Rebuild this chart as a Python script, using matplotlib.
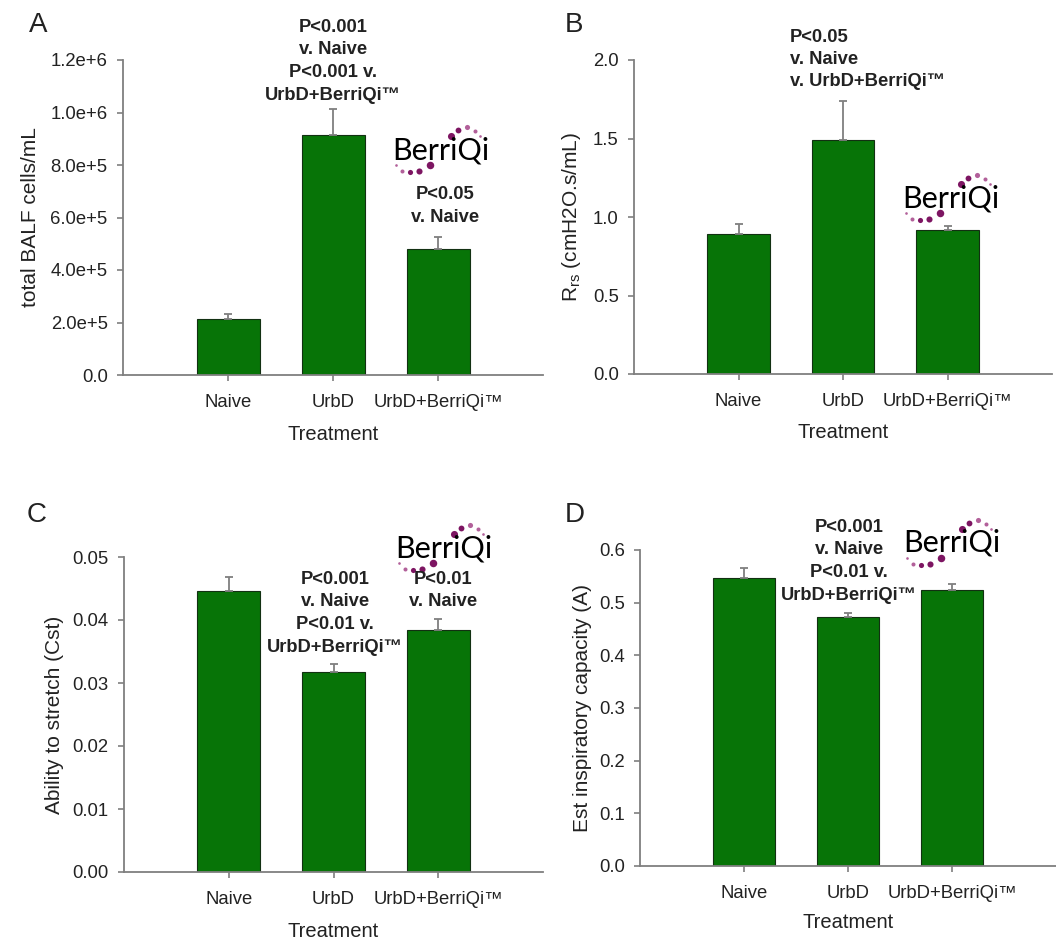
import numpy as np
import matplotlib
matplotlib.use('Agg')
import matplotlib.pyplot as plt
from matplotlib.lines import Line2D

plt.rcParams['font.family'] = ['Liberation Sans', 'DejaVu Sans']
plt.rcParams['mathtext.default'] = 'regular'

W, H = 1056, 943

categories = ['Naive', 'UrbD', 'UrbD+BerriQi\u2122']

# panel A: total BALF cells
balf_mean = [2.13e5, 9.14e5, 4.80e5]
balf_err = [0.19e5, 0.99e5, 0.46e5]
# panel B: Rrs
rrs_mean = [0.89, 1.49, 0.915]
rrs_err = [0.065, 0.25, 0.025]
# panel C: Cst
cst_mean = [0.0446, 0.0317, 0.0384]
cst_err = [0.0022, 0.0013, 0.0018]
# panel D: inspiratory capacity
ic_mean = [0.547, 0.472, 0.524]
ic_err = [0.018, 0.008, 0.011]

balf_ticks = [0, 2e5, 4e5, 6e5, 8e5, 1e6, 1.2e6]
balf_ticklabels = ['0.0', '2.0e+5', '4.0e+5', '6.0e+5', '8.0e+5', '1.0e+6', '1.2e+6']
rrs_ticks = [0.0, 0.5, 1.0, 1.5, 2.0]
cst_ticks = [0.0, 0.01, 0.02, 0.03, 0.04, 0.05]
ic_ticks = [0.0, 0.1, 0.2, 0.3, 0.4, 0.5, 0.6]

GREEN = '#077407'
GRAY = '#7f7f7f'
PURPLE = '#7d1562'
PURPLE_LIGHT = '#b2609a'


def px(x, y):
    return x / W, 1 - y / H


def axes_px(x0, y0, x1, y1):
    l, t = px(x0, y0)
    r, b = px(x1, y1)
    return [l, b, r - l, t - b]


def draw_panel(rect, means, errs, ticks, ticklabels, ylabel, ylab_x, xlab_y):
    ax = fig.add_axes(rect)
    x = np.arange(len(categories))
    ax.bar(x, means, width=0.6, color=GREEN, edgecolor='#123012', linewidth=0.8, zorder=2)
    ax.errorbar(x, means, yerr=[[0] * len(errs), errs], fmt='none', ecolor=GRAY,
                elinewidth=1.3, capsize=3, capthick=1.3, zorder=3)
    ax.set_xlim(-1, 3)
    ax.set_ylim(ticks[0], ticks[-1])
    ax.set_xticks(x)
    ax.set_xticklabels(categories, fontsize=13.3, color='#222222')
    ax.set_yticks(ticks)
    ax.set_yticklabels(ticklabels, fontsize=13.3, color='#222222')
    for s in ['top', 'right']:
        ax.spines[s].set_visible(False)
    for s in ['left', 'bottom']:
        ax.spines[s].set_color(GRAY)
        ax.spines[s].set_linewidth(1.3)
    ax.tick_params(axis='y', direction='out', length=4, width=1.2, color=GRAY, pad=7)
    ax.tick_params(axis='x', direction='out', length=4, width=1.2, color=GRAY, pad=10)
    ax.set_ylabel(ylabel, fontsize=15, color='#222222')
    ax.set_xlabel('Treatment', fontsize=14.5, color='#222222')
    ax.yaxis.set_label_coords(ylab_x, 0.5)
    ax.xaxis.set_label_coords(0.5, xlab_y)
    return ax


def draw_logo(x, y):
    # x, y: pixel position of text left / baseline
    fig.text(*px(x, y), 'BerriQi', fontsize=22, family=['Lato', 'DejaVu Sans'],
             color='black', ha='left', va='baseline')
    dots = [(4, -6, 1.9, PURPLE_LIGHT), (10, -12, 2.9, PURPLE_LIGHT), (18, -13.4, 3.7, PURPLE),
            (27, -12, 4.4, PURPLE), (38, -6, 5.4, PURPLE),
            (59, 23, 5.1, PURPLE), (66, 29, 4.2, PURPLE), (75, 32, 3.7, PURPLE_LIGHT),
            (83, 28, 2.9, PURPLE_LIGHT), (88, 23, 1.9, PURPLE_LIGHT)]
    for dx, dy, ms, c in dots:
        fig.add_artist(Line2D([px(x + dx, 0)[0]], [px(0, y - dy)[1]], marker='o',
                              markersize=ms, color=c, markeredgewidth=0, linestyle='none',
                              transform=fig.transFigure))


def bold_lines(x, y, lines, ha='center', step=22.7):
    # y: pixel centre of the first line
    for i, s in enumerate(lines):
        fig.text(*px(x, y + i * step), s, fontsize=13.2, fontweight='bold',
                 color='#222222', ha=ha, va='center')


fig = plt.figure(figsize=(W / 100, H / 100), dpi=100)

axA = draw_panel(axes_px(123, 60, 543, 375), balf_mean, balf_err, balf_ticks,
                 balf_ticklabels, 'total BALF cells/mL', -0.198, -0.159)
axB = draw_panel(axes_px(634, 60, 1052, 374), rrs_mean, rrs_err, rrs_ticks,
                 ['%.1f' % t for t in rrs_ticks], r'R$_{rs}$ (cmH2O.s/mL)', -0.122, -0.156)
axC = draw_panel(axes_px(124, 557, 543, 872), cst_mean, cst_err, cst_ticks,
                 ['%.2f' % t for t in cst_ticks], 'Ability to stretch (Cst)', -0.143, -0.159)
axD = draw_panel(axes_px(640, 550, 1056, 866), ic_mean, ic_err, ic_ticks,
                 ['%.1f' % t for t in ic_ticks], 'Est inspiratory capacity (A)', -0.115, -0.149)

# panel letters
for letter, (lx, ly) in zip('ABCD', [(29, 32), (565, 32), (27, 522), (565, 522)]):
    fig.text(*px(lx, ly), letter, fontsize=20, color='#222222', ha='left', va='baseline')

# significance annotations
bold_lines(333, 27, ['P<0.001', 'v. Naive', 'P<0.001 v.', 'UrbD+BerriQi\u2122'])
bold_lines(445, 195, ['P<0.05', 'v. Naive'])
bold_lines(790, 37, ['P<0.05', 'v. Naive', 'v. UrbD+BerriQi\u2122'], ha='left', step=22.5)
bold_lines(335, 579, ['P<0.001', 'v. Naive', 'P<0.01 v.', 'UrbD+BerriQi\u2122'])
bold_lines(443, 579, ['P<0.01', 'v. Naive'])
bold_lines(849, 527, ['P<0.001', 'v. Naive', 'P<0.01 v.', 'UrbD+BerriQi\u2122'])

# BerriQi logos
draw_logo(392, 159)
draw_logo(902, 207)
draw_logo(395, 557)
draw_logo(903, 552)

fig.savefig('out.png', dpi=100)
